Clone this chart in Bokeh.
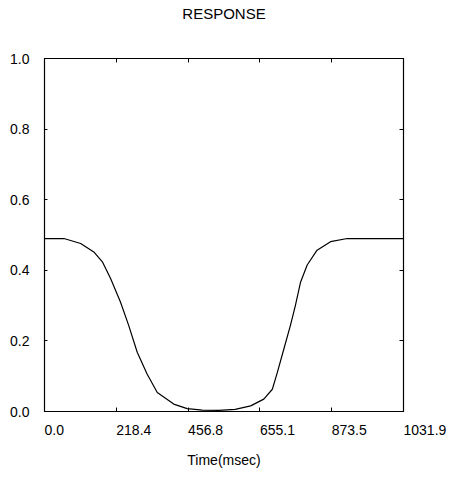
from bokeh.plotting import figure
from bokeh.models import Range1d, FixedTicker, LinearAxis
from bokeh.embed import file_html
from bokeh.resources import INLINE

# ---- data ----
time_ms = [0, 8, 59, 110, 150, 176, 201, 231, 256, 282, 312, 343, 393, 434,
           480, 530, 580, 627, 667, 693, 708, 728, 748, 763, 779, 799, 829,
           870, 921, 1000, 1091.9]
response = [0.49, 0.49, 0.49, 0.476, 0.452, 0.424, 0.377, 0.310, 0.244, 0.168,
            0.106, 0.054, 0.021, 0.008, 0.004, 0.003, 0.006, 0.016, 0.035,
            0.063, 0.11, 0.177, 0.244, 0.30, 0.367, 0.415, 0.457, 0.481,
            0.49, 0.49, 0.49]

x_ticks = [0.0, 218.38, 436.76, 655.14, 873.52, 1091.9]
x_tick_labels = ["0.0", "218.4", "456.8", "655.1", "873.5", "1031.9"]
y_ticks = [0.0, 0.2, 0.4, 0.6, 0.8, 1.0]
y_tick_labels = ["0.0", "0.2", "0.4", "0.6", "0.8", "1.0"]
title_text = "RESPONSE"
x_axis_label = "Time(msec)"

FONT = "Liberation Sans"
FS = "14px"
X_MAX = 1091.9

p = figure(width=453, height=481, output_backend="svg", toolbar_location=None,
           title=None,
           x_range=Range1d(0, X_MAX), y_range=Range1d(0, 1.0),
           x_axis_location=None, y_axis_location=None,
           min_border_left=44, min_border_right=50, min_border_top=58,
           min_border_bottom=70)
p.background_fill_color = "white"
p.border_fill_color = "white"
p.outline_line_color = "black"
p.outline_line_width = 1.2
p.xgrid.visible = False
p.ygrid.visible = False


def tick_axis(ticks, labels=None, tick_in=4, **kw):
    ax = LinearAxis(**kw)
    ax.ticker = FixedTicker(ticks=ticks)
    ax.axis_line_color = None
    ax.major_tick_in = tick_in
    ax.major_tick_out = 0
    ax.major_tick_line_color = "black"
    ax.minor_tick_line_color = None
    if labels is None:
        ax.major_label_overrides = {t: "" for t in ticks}
        ax.major_label_standoff = 0
        ax.major_label_text_font_size = "1px"
    else:
        ax.major_label_overrides = {t: l for t, l in zip(ticks, labels)}
    ax.major_label_text_font = FONT
    ax.major_label_text_color = "black"
    ax.axis_label_text_font = FONT
    ax.axis_label_text_font_style = "normal"
    ax.axis_label_text_color = "black"
    return ax

left = tick_axis(y_ticks, y_tick_labels, tick_in=3)
left.major_label_text_font_size = FS
left.major_label_standoff = 15
p.add_layout(left, "left")
p.add_layout(tick_axis(y_ticks), "right")

top = tick_axis(x_ticks)
top.axis_label = title_text
top.axis_label_text_font_size = "15px"
top.axis_label_standoff = 37
p.add_layout(top, "above")

bottom = tick_axis(x_ticks, x_tick_labels)
bottom.major_label_text_font_size = FS
bottom.major_label_orientation = -0.0001   # makes labels start at their tick
bottom.major_label_standoff = 18
bottom.axis_label = x_axis_label
bottom.axis_label_text_font_size = FS
bottom.axis_label_standoff = 9
p.add_layout(bottom, "below")

p.line(time_ms, response, line_color="black", line_width=1.2)

open("out.html", "w").write(file_html(p, INLINE))
